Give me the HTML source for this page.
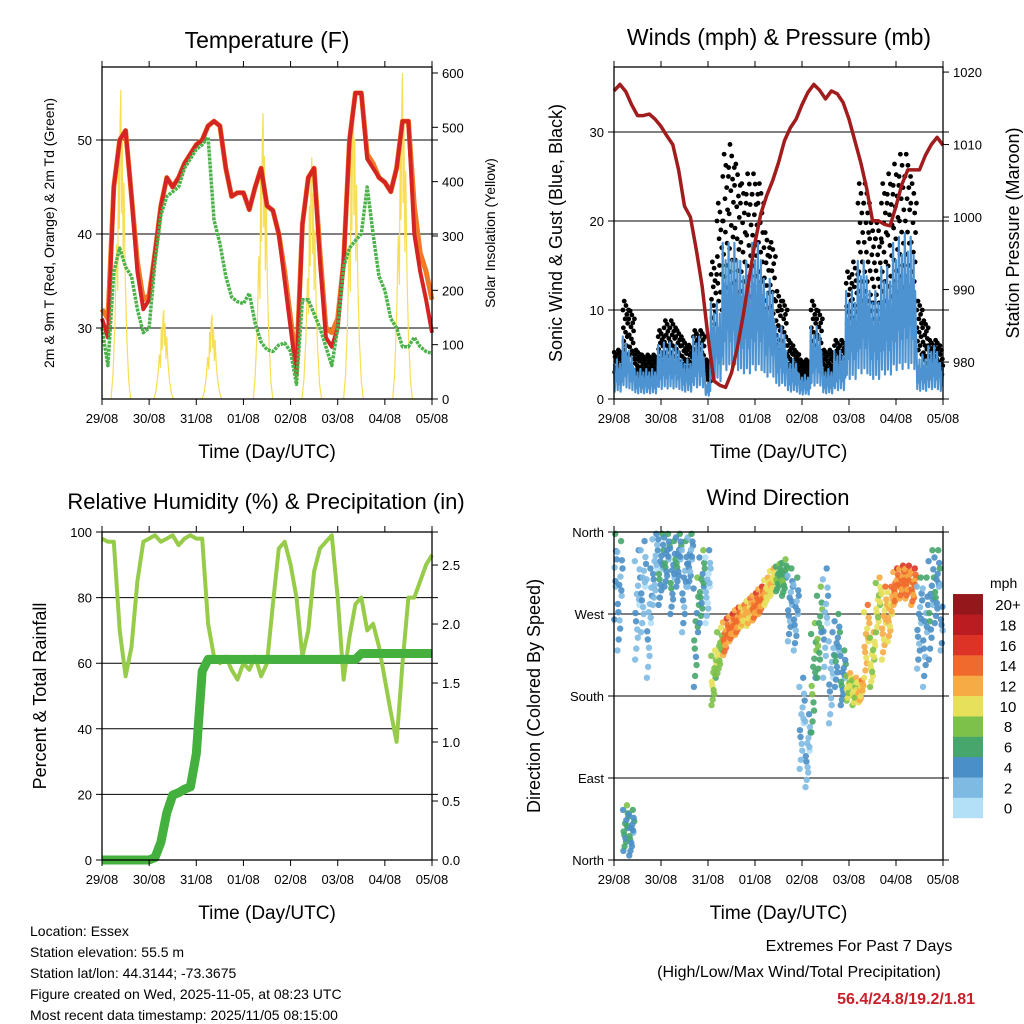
<!DOCTYPE html>
<html><head><meta charset="utf-8"><style>
body{margin:0;background:#fff}
svg{display:block;font-family:"Liberation Sans",Arial,sans-serif}
</style></head><body>
<svg id="chart" width="1024" height="1024" viewBox="0 0 1024 1024"></svg>
<script>
const dayLabels=['29/08','30/08','31/08','01/08','02/08','03/08','04/08','05/08'];
// 3-hourly series (57 values, hours 0..168)
const tempRed=[31,29,45,50,51,44,36,32,33,38,43,46,45,46,47.5,48.5,49.5,50,51.5,52,51.5,47,44,44.4,44.4,42.6,45,47,43,42.5,40,35,30,25,41,46,47,37,29,28,30,37,50,55,55,48,47,46,45.5,44.5,47,52,52,40,36,33,29.5];
const tempOrange=[32,31,45,50,51,44,37,33,33.5,38,43,46,45,46,47.5,48.5,49.5,50,51.5,52,51.5,47,44,44.4,44.4,42.6,45,47,43,42.5,40,36,31,26,41,46,47,38,30,29.5,31,37,50,55,55,48.5,47.5,46,45.5,44.5,47,52,52,43,38,36,33];
const dewGreen=[30,26,36,38.5,36.5,35.5,32,29.5,30,37,42,44,44.5,45,47,48,49,49.5,50.3,41.5,39,35.5,33.3,32.8,32.6,33.7,30.5,28.5,27.7,27.5,28.2,28.4,27.5,24,33,33,31.5,30,28,26,30,36.5,38.5,39.3,40,45,40,35.5,34,31,30,28,28,29,28,27.5,27.3];
const solarPeaks=[569,164,155,526,445,563,600];
const solarPeakHour=[9.6,7.4,8,10,10.8,8,9];
const wind3=[3.3,3.3,5.2,4,2.5,2.5,2.5,2.5,4.5,4.7,4.7,4.5,3.3,3.3,5.2,5.2,1.5,8,8,13,13,13,11.5,11.5,13,13,10,10,6,6,3.3,3.3,2,2,6,6,2.5,2.5,4,4,9,9,11.5,11.5,9,9,11,11,13,13.5,13.8,13.5,3.7,3.7,4.4,4.4,3];
const gust3=[5,5,10,9,5,4.5,4.5,4.5,7,8,8,7,6,5.5,7,7,4,14,20,25,26,24,22,23,23,22,17,16,11,10,6,5,4,4,10,9,5,5,6,6,13,14,22,22,18,18,22,23,24,25,25,22,10,8,6,6,5];
const pressure3=[1017.4,1018.3,1017.3,1015.5,1014,1014,1014.2,1013.5,1012.5,1011.2,1010,1006.5,1001.5,1000,995.5,990.5,983.5,977.4,976.8,976.5,978.5,982,986.5,991.5,996.5,1000.5,1003,1005,1007.5,1010.5,1012.3,1013.5,1015.5,1017.2,1018.3,1017.5,1016.3,1017.4,1017,1015.8,1013.5,1010.5,1007.5,1004,999.5,999.5,999,998.8,1001.5,1004.5,1006.5,1006.5,1006.5,1008.5,1010,1011,1009.9];
const rh3=[98,97,97,70,56,65,85,97,98,99,97,98,99,96,98,99,98,98,72,62,60,62,58,55,60,58,62,56,60,78,95,97,90,80,62,70,88,95,97,99,80,55,68,78,80,70,72,65,55,45,36,60,80,80,85,90,93];
const precip3=[0,0,0,0,0,0,0,0,0,0.02,0.15,0.4,0.55,0.57,0.6,0.62,0.9,1.6,1.7,1.7,1.7,1.7,1.7,1.7,1.7,1.7,1.7,1.7,1.7,1.7,1.7,1.7,1.7,1.7,1.7,1.7,1.7,1.7,1.7,1.7,1.7,1.7,1.7,1.7,1.75,1.75,1.75,1.75,1.75,1.75,1.75,1.75,1.75,1.75,1.75,1.75,1.75];
const dirMean=[300,290,35,30,280,300,260,320, 320,330,310,330,300,330,250,300, 300,200,230,245,255,262,268,272, 278,285,295,305,310,310,280,270, 150,120,200,250,260,200,230,200, 190,185,185,240,220,280,260,270, 300,305,305,300,260,250,280,300,270];
const dirSpread=[60,60,25,25,60,50,60,40, 40,30,40,30,50,30,60,40, 40,30,25,20,15,15,12,15, 15,15,15,15,15,20,40,40, 50,40,60,50,60,50,40,30, 15,15,12,40,30,30,40,30, 20,18,18,20,50,60,60,40,40];
const speedColors=['#b3e0f7','#7fbae3','#4a8fc7','#46a66b','#7dc14a','#e6e05a','#f6ab45','#ef6a2c','#dd3327','#bb1c22','#93171b'];
const speedLabels=['0','2','4','6','8','10','12','14','16','18','20+'];

const svg=document.getElementById('chart');
const NS='http://www.w3.org/2000/svg';
function mk(tag,attrs,parent){const e=document.createElementNS(NS,tag);for(const k in attrs)e.setAttribute(k,attrs[k]);(parent||svg).appendChild(e);return e;}
function lin(d0,d1,r0,r1){return v=>r0+(v-d0)*(r1-r0)/(d1-d0);}
function txt(x,y,s,size,anchor,name,extra){const e=mk('text',Object.assign({x:x,y:y,'font-size':size,'text-anchor':anchor||'middle',fill:'#000'},extra||{}));e.textContent=s;return e;}

function frame(P,xs,name){
  const g=mk('g',{});
  
  
  const r=mk('rect',{x:P.x0,y:P.y0,width:P.x1-P.x0,height:P.y1-P.y0,fill:'none',stroke:'#000','stroke-width':1.3},g);
  
  
  for(let d=0;d<=7;d++){
    const x=xs(d*24);
    const t1=mk('line',{x1:x,x2:x,y1:P.y1,y2:P.y1+6,stroke:'#000'},g);
    
    
    const t2=mk('line',{x1:x,x2:x,y1:P.y0,y2:P.y0-6,stroke:'#000'},g);
    
    
    txt(x,P.y1+24,dayLabels[d],13,'middle','x-tick-label');
  }
  txt((P.x0+P.x1)/2,P.y1+59,'Time (Day/UTC)',19,'middle','x-axis-title');
  return g;
}
function hgrid(P,y,label){
  const l=mk('line',{x1:P.x0-6,x2:P.x1+6,y1:y,y2:y,stroke:'#000','stroke-width':1});
  
  
  if(label!==null)txt(P.x0-10,y+5,label,13,'end','y-tick-label');
}
function rtick(P,y,label){
  const l=mk('line',{x1:P.x1,x2:P.x1+6,y1:y,y2:y,stroke:'#000'});
  
  
  txt(P.x1+10,y+5,label,13,'start','right-tick-label');
}
function pathFrom(xs,ys,arr){return arr.map((v,i)=>(i?'L':'M')+xs(i*3).toFixed(1)+','+ys(v).toFixed(1)).join('');}

// ===== Panel 1: Temperature =====
const P1={x0:102,x1:432,y0:67,y1:399};
const x1s=lin(0,168,P1.x0,P1.x1), yT=lin(22.45,57.77,399,67), yS=lin(0,611,399,67);
txt(267,48,'Temperature (F)',23,'middle','temperature-title');
[30,40,50].forEach(v=>hgrid(P1,yT(v),String(v)));
[0,100,200,300,400,500,600].forEach(v=>rtick(P1,yS(v),String(v)));
txt(0,0,'2m & 9m T (Red, Orange) & 2m Td (Green)',14,'middle','left-y-axis-title',{transform:'translate(54,233) rotate(-90)'});
txt(0,0,'Solar Insolation (Yellow)',14,'middle','right-y-axis-title',{transform:'translate(495,233) rotate(-90)'});
const solarShape=[[-5,0],[-4,0.08],[-3,0.25],[-2.2,0.5],[-1.6,0.35],[-1.2,0.8],[-0.8,0.55],[-0.4,0.9],[0,1],[0.3,0.6],[0.7,0.85],[1.2,0.45],[1.6,0.7],[2.2,0.4],[3,0.2],[4,0.06],[5,0]];
solarPeaks.forEach((pk,d)=>{
  const c=d*24+solarPeakHour[d];
  const dd=solarShape.map((s,i)=>(i?'L':'M')+x1s(c+s[0]).toFixed(1)+','+yS(pk*s[1]).toFixed(1)).join('');
  const p=mk('path',{d:dd,fill:'none',stroke:'#f7de55','stroke-width':1.2});
  
  
});
{const p=mk('path',{d:pathFrom(x1s,yT,tempOrange),fill:'none',stroke:'#f07a26','stroke-width':5,'stroke-linejoin':'round'});
}
{const p=mk('path',{d:pathFrom(x1s,yT,tempRed),fill:'none',stroke:'#d42424','stroke-width':4,'stroke-linejoin':'round'});
}
{const p=mk('path',{d:pathFrom(x1s,yT,dewGreen),fill:'none',stroke:'#4cb24a','stroke-width':3.5,'stroke-dasharray':'3 1','stroke-linejoin':'round'});
}
frame(P1,x1s,'temperature');

// ===== Panel 2: Winds & Pressure =====
const P2={x0:614,x1:943,y0:67,y1:399};
const x2s=lin(0,168,P2.x0,P2.x1), yW=lin(0,37.3,399,67), yP=lin(974.9,1020.7,399,67);
txt(779,45,'Winds (mph) & Pressure (mb)',23,'middle','winds-title');
[0,10,20,30].forEach(v=>hgrid(P2,yW(v),String(v)));
[980,990,1000,1010,1020].forEach(v=>rtick(P2,yP(v),String(v)));
txt(0,0,'Sonic Wind & Gust (Blue, Black)',18,'middle','left-y-axis-title',{transform:'translate(562,233) rotate(-90)'});
txt(0,0,'Station Pressure (Maroon)',18,'middle','right-y-axis-title',{transform:'translate(1019,233) rotate(-90)'});
const gPat=[1,0.8,0.65,1.1,0.55,0.9,0.75,1.05,0.6,0.95,0.7,0.85,0.5,1];
gust3.forEach((g,i)=>{
  gPat.forEach((f,k)=>{
    const h=i*3+(k-6.5)*0.22;
    if(h<0||h>168)return;
    const c=mk('circle',{cx:x2s(h),cy:yW(Math.max(0,g*f)),r:2.4,fill:'#000'});
    
    
  });
});
const blueFactors=[1.35,0.3,1.0,0.5,1.2,0.25,0.9,0.6];
{let d='';wind3.forEach((w,i)=>{blueFactors.forEach((f,k)=>{const h=i*3-1.5+k*0.375;if(h<0||h>168)return;d+=(d?'L':'M')+x2s(h).toFixed(1)+','+yW(w*f).toFixed(1);});});
const p=mk('path',{d:d,fill:'none',stroke:'#4d93d2','stroke-width':2.2,'stroke-linejoin':'round'});
}
{const p=mk('path',{d:pathFrom(x2s,yP,pressure3),fill:'none',stroke:'#a11c1c','stroke-width':3.5,'stroke-linejoin':'round'});
}
frame(P2,x2s,'winds');

// ===== Panel 3: RH & Precip =====
const P3={x0:102,x1:432,y0:532,y1:860};
const x3s=lin(0,168,P3.x0,P3.x1), yR=lin(0,100,860,532), yPr=lin(0,2.78,860,532);
txt(266,509,'Relative Humidity (%) & Precipitation (in)',22,'middle','humidity-title');
[0,20,40,60,80,100].forEach(v=>hgrid(P3,yR(v),String(v)));
[0,0.5,1,1.5,2,2.5].forEach(v=>rtick(P3,yPr(v),v.toFixed(1)));
txt(0,0,'Percent & Total Rainfall',18,'middle','left-y-axis-title',{transform:'translate(46,696) rotate(-90)'});
{const p=mk('path',{d:pathFrom(x3s,yR,rh3),fill:'none',stroke:'#97cc4a','stroke-width':4,'stroke-linejoin':'round'});
}
{const p=mk('path',{d:pathFrom(x3s,yPr,precip3),fill:'none',stroke:'#44b03e','stroke-width':9,'stroke-linejoin':'round'});
}
frame(P3,x3s,'humidity');

// ===== Panel 4: Wind direction =====
const P4={x0:614,x1:943,y0:532,y1:860};
const x4s=lin(0,168,P4.x0,P4.x1), yD=lin(0,360,860,532);
txt(778,505,'Wind Direction',22,'middle','wind-direction-title');
[['North',0],['East',90],['South',180],['West',270],['North',360]].forEach(a=>hgrid(P4,yD(a[1]),a[0]));
txt(0,0,'Direction (Colored By Speed)',18,'middle','left-y-axis-title',{transform:'translate(540,696) rotate(-90)'});
const dPat=[-1,-0.6,-0.3,0,0.2,0.5,0.8,1,-0.8,0.35,-0.15,0.65,-0.45,0.1];
const sPat=[-1,0,1,-2,0,1,-1,2,0,-1,1,0,-1,0];
const xPat=[0.1,0.55,0.25,0.8,0.4,0.95,0.05,0.7,0.3,0.6,0.15,0.85,0.45,0.75];
dirMean.forEach((m,i)=>{
  dPat.forEach((f,k)=>{
    const h=i*3-1.5+xPat[k]*3;
    if(h<0||h>168)return;
    let dir=m+f*dirSpread[i]; dir=Math.max(2,Math.min(358,dir));
    const sp=Math.max(0,wind3[i]+sPat[k]);
    const ci=Math.min(10,Math.round(sp/2));
    const c=mk('circle',{cx:x4s(h),cy:yD(dir),r:3.2,fill:speedColors[ci],'fill-opacity':0.9});
    
    
  });
});
frame(P4,x4s,'wind-direction');
txt(990,588,'mph',14,'start','colorbar-title');
speedColors.forEach((col,i)=>{
  const y=818-(i+1)*20.36;
  const r=mk('rect',{x:953,y:y,width:30,height:20.6,fill:col});
  
  
  txt(1008,y+16,speedLabels[i],15,'middle','colorbar-label');
});

// ===== Footer text =====
['Location: Essex','Station elevation: 55.5 m','Station lat/lon: 44.3144; -73.3675','Figure created on Wed, 2025-11-05, at 08:23 UTC','Most recent data timestamp: 2025/11/05 08:15:00'].forEach((s,i)=>txt(30,936+i*21,s,14,'start','station-info-line'));
txt(859,951,'Extremes For Past 7 Days',16,'middle','extremes-title');
txt(799,977,'(High/Low/Max Wind/Total Precipitation)',16,'middle','extremes-subtitle');
txt(975,1004,'56.4/24.8/19.2/1.81',16,'end','extremes-values',{fill:'#c8202a','font-weight':'bold'});
</script>
</body></html>
